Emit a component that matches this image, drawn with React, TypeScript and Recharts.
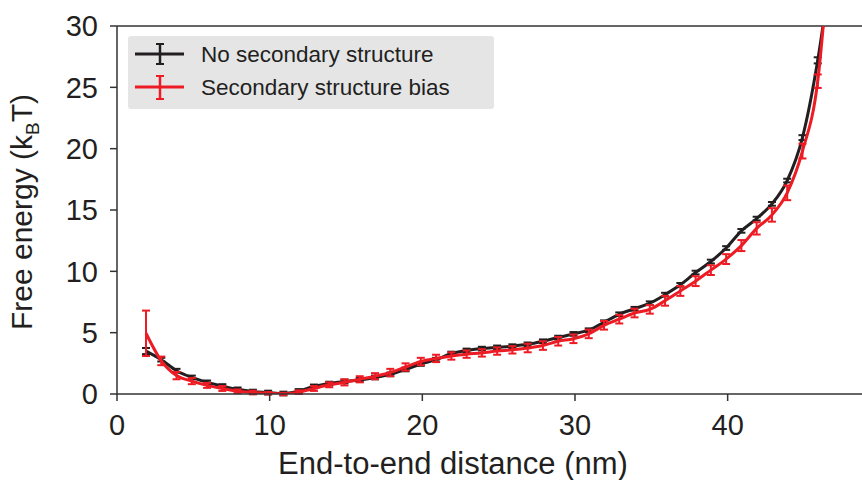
import React from 'react';
import { LineChart, Line, XAxis, YAxis, ErrorBar, ReferenceLine, Legend } from 'recharts';

const BLACK = '#231f20';
const RED = '#ed1c24';
const AXIS = '#333333';

// end-to-end distance (nm)
const distance = [
  1.9, 2.9, 3.9, 4.9, 5.9, 6.9, 7.9, 8.9, 9.9, 10.9,
  11.9, 12.9, 13.9, 14.9, 15.9, 16.9, 17.9, 18.9, 19.9, 20.9,
  21.9, 22.9, 23.9, 24.9, 25.9, 26.9, 27.9, 28.9, 29.9, 30.9,
  31.9, 32.9, 33.9, 34.9, 35.9, 36.9, 37.9, 38.9, 39.9, 40.9,
  41.9, 42.9, 43.9, 44.9, 45.9, 46.9,
];

// free energy (kBT), no secondary structure
const noSecondary = [
  3.5, 2.8, 1.9, 1.35, 0.95, 0.65, 0.38, 0.2, 0.12, 0.04,
  0.25, 0.62, 0.85, 1.02, 1.15, 1.35, 1.6, 2.0, 2.45, 2.8,
  3.3, 3.55, 3.7, 3.8, 3.9, 4.05, 4.3, 4.6, 4.9, 5.2,
  5.85, 6.5, 6.95, 7.4, 8.1, 8.9, 9.9, 10.8, 11.9, 13.3,
  14.3, 15.5, 17.4, 20.9, 27.2, 36,
];
const noSecondaryErr = [
  0.25, 0.15, 0.15, 0.15, 0.15, 0.15, 0.15, 0.15, 0.15, 0.15,
  0.15, 0.15, 0.15, 0.15, 0.15, 0.15, 0.15, 0.15, 0.15, 0.15,
  0.15, 0.15, 0.15, 0.15, 0.15, 0.15, 0.15, 0.15, 0.15, 0.15,
  0.15, 0.15, 0.15, 0.15, 0.15, 0.15, 0.15, 0.15, 0.15, 0.15,
  0.15, 0.15, 0.15, 0.2, 0.25, 0,
];

// free energy (kBT), secondary structure bias
const secondaryBias = [
  4.95, 2.7, 1.5, 1.05, 0.7, 0.45, 0.22, 0.12, 0.06, 0.0,
  0.15, 0.45, 0.75, 0.95, 1.2, 1.45, 1.75, 2.2, 2.65, 2.9,
  3.1, 3.25, 3.35, 3.5, 3.6, 3.75, 3.95, 4.3, 4.5, 4.9,
  5.6, 6.1, 6.6, 6.9, 7.6, 8.4, 9.2, 10.1, 11.0, 12.1,
  13.5, 14.6, 16.4, 19.8, 25.5, 40,
];
const secondaryBiasErr = [
  1.85, 0.35, 0.3, 0.25, 0.2, 0.2, 0.15, 0.15, 0.1, 0.1,
  0.15, 0.2, 0.2, 0.25, 0.25, 0.25, 0.3, 0.3, 0.3, 0.3,
  0.3, 0.3, 0.3, 0.3, 0.3, 0.35, 0.35, 0.35, 0.35, 0.35,
  0.35, 0.35, 0.35, 0.35, 0.4, 0.4, 0.4, 0.4, 0.4, 0.45,
  0.5, 0.55, 0.6, 0.6, 0.55, 0,
];

const xTicks = [0, 10, 20, 30, 40];
const yTicks = [0, 5, 10, 15, 20, 25, 30];

const data = distance.map((d, i) => ({
  d,
  none: noSecondary[i],
  noneErr: noSecondaryErr[i],
  bias: secondaryBias[i],
  biasErr: secondaryBiasErr[i],
}));

const FONT = '"Liberation Sans", Arial, Helvetica, sans-serif';

const LegendBox = () => (
  <svg width={366} height={73} style={{ display: 'block' }}>
    <rect x={0} y={0} width={366} height={73} rx={3} fill="#e5e5e6" />
    <g stroke={BLACK} strokeWidth={3}>
      <line x1={7} y1={18} x2={56} y2={18} />
      <line x1={32} y1={8} x2={32} y2={28} strokeWidth={2.5} />
      <line x1={28} y1={8} x2={36} y2={8} strokeWidth={2} />
      <line x1={28} y1={28} x2={36} y2={28} strokeWidth={2} />
    </g>
    <g stroke={RED} strokeWidth={3}>
      <line x1={7} y1={51} x2={56} y2={51} />
      <line x1={32} y1={40} x2={32} y2={63} strokeWidth={2.5} />
      <line x1={28} y1={40} x2={36} y2={40} strokeWidth={2} />
      <line x1={28} y1={63} x2={36} y2={63} strokeWidth={2} />
    </g>
    <text x={73} y={26} fontSize={22.5} fontFamily={FONT} fill={BLACK}>No secondary structure</text>
    <text x={73} y={59} fontSize={22.5} fontFamily={FONT} fill={BLACK}>Secondary structure bias</text>
  </svg>
);

const YTitle = () => (
  <text
    transform="translate(32,212) rotate(-90)"
    textAnchor="middle"
    fontSize={30}
    fontFamily={FONT}
    fill={BLACK}
  >
    Free energy (k<tspan fontSize={19} dy={7}>B</tspan><tspan dy={-7}>T)</tspan>
  </text>
);

const XTitle = () => (
  <text x={453} y={474} textAnchor="middle" fontSize={31} fontFamily={FONT} fill={BLACK}>
    End-to-end distance (nm)
  </text>
);

export default function App() {
  return (
    <div style={{ position: 'absolute', left: 0, top: 0, width: 862, height: 480, background: '#fff' }}>
      <LineChart
        width={862}
        height={480}
        data={data}
        margin={{ top: 26, right: 0, left: 57, bottom: 46 }}
      >
        <XAxis
          dataKey="d"
          type="number"
          domain={[0, 48.8]}
          ticks={xTicks}
          allowDataOverflow
          height={40}
          stroke={AXIS}
          strokeWidth={1.5}
          tickSize={7}
          tickMargin={13}
          tick={{ fill: BLACK, fontSize: 29, fontFamily: FONT }}
          label={<XTitle />}
        />
        <YAxis
          type="number"
          domain={[0, 30]}
          ticks={yTicks}
          allowDataOverflow
          width={60}
          stroke={AXIS}
          strokeWidth={1.5}
          tickSize={7}
          tickMargin={12}
          tick={{ fill: BLACK, fontSize: 29, fontFamily: FONT }}
          label={<YTitle />}
        />
        <ReferenceLine y={30} stroke={AXIS} strokeWidth={1.5} ifOverflow="extendDomain" />
        <Legend
          layout="horizontal"
          align="center"
          verticalAlign="middle"
          content={<LegendBox />}
          wrapperStyle={{ position: 'absolute', left: 128, top: 36, width: 366, height: 73 }}
        />
        <Line
          type="monotone"
          dataKey="none"
          name="No secondary structure"
          stroke={BLACK}
          strokeWidth={3}
          dot={false}
          isAnimationActive={false}
        >
          <ErrorBar dataKey="noneErr" width={4} strokeWidth={2} stroke={BLACK} direction="y" />
        </Line>
        <Line
          type="monotone"
          dataKey="bias"
          name="Secondary structure bias"
          stroke={RED}
          strokeWidth={3}
          dot={false}
          isAnimationActive={false}
        >
          <ErrorBar dataKey="biasErr" width={4} strokeWidth={2} stroke={RED} direction="y" />
        </Line>
      </LineChart>
    </div>
  );
}
